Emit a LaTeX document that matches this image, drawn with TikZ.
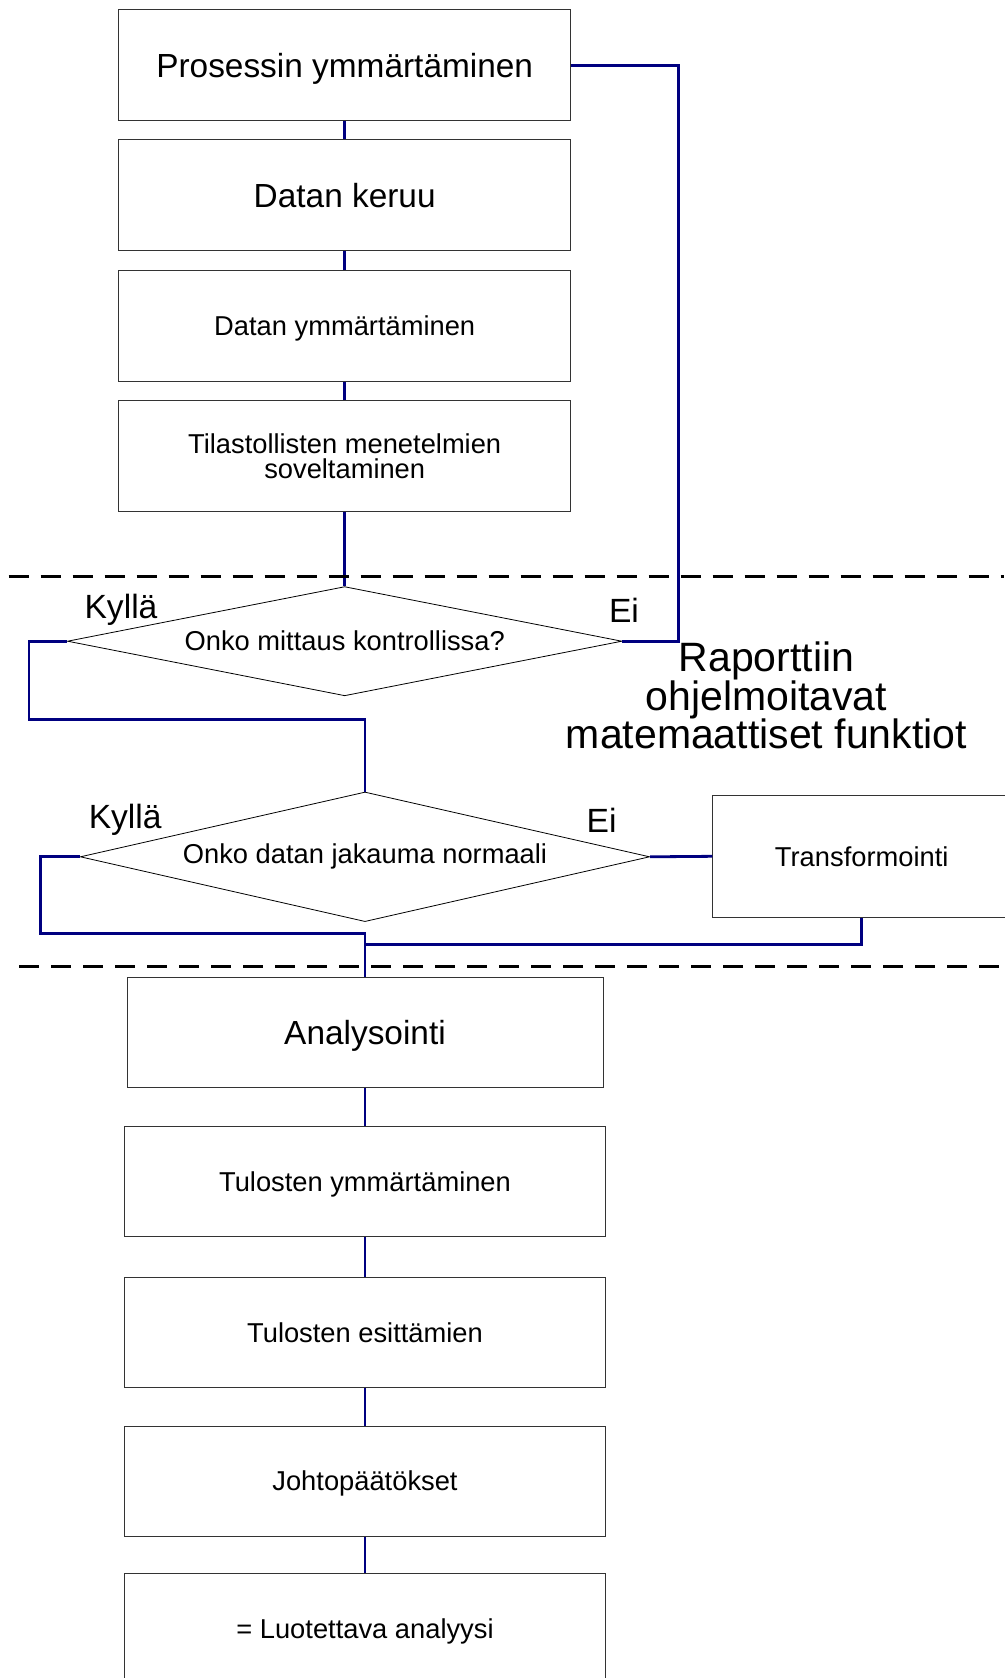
\documentclass[tikz,border=0pt]{standalone}
\usepackage{fontspec}
\setmainfont{Liberation Sans}
\usepackage{tikz}
\usepackage{xcolor}
\usetikzlibrary{shapes.geometric}
\definecolor{linkblue}{RGB}{0,0,128}

\begin{document}
\begin{tikzpicture}[
            x=1pt, y=-1pt,
            phase/.style={draw=black!80, line width=1pt, inner sep=0pt, minimum width=452pt, minimum height=111pt, text depth=0pt, align=center, font=\fontsize{27.3}{25}\selectfont},
            bigphase/.style={phase, font=\fontsize{33.4}{36}\selectfont},
            lowphase/.style={phase, minimum width=481pt, minimum height=110pt},
            decision/.style={diamond, aspect=5, draw=black, line width=0.8pt, inner sep=0pt, font=\fontsize{27.3}{30}\selectfont},
            answer/.style={text depth=0pt, font=\fontsize{33.6}{36}\selectfont},
            link/.style={draw=linkblue, line width=2.8pt},
            divider/.style={draw=black, line width=3pt, dash pattern=on 20pt off 12pt},
        ]
            \useasboundingbox (0,0) rectangle (1004,1678);

            \node[bigphase] (proc) at (344.7,65.3) {Prosessin ymmärtäminen};
            \node[bigphase] (collect) at (344.7,195.4) {Datan keruu};
            \node[phase] (datau) at (344.7,325.9) {Datan ymmärtäminen};
            \node[phase] (stats) at (344.7,456) {Tilastollisten menetelmien\\soveltaminen};
            \node[decision, minimum width=554.5pt, minimum height=109.2pt] (ctrl) at (344.7,641.2) {Onko mittaus kontrollissa?};
            \node[decision, minimum width=569.4pt, minimum height=129.6pt] (normal) at (365,856.8) {Onko datan jakauma normaali};
            \node[phase, minimum width=297.6pt, minimum height=122pt] (trans) at (861.7,856.3) {Transformointi};
            \node[bigphase, minimum width=476pt, minimum height=110pt] (anal) at (365,1032.4) {Analysointi};
            \node[lowphase] (resu) at (365,1181.2) {Tulosten ymmärtäminen};
            \node[lowphase] (pres) at (365,1332.1) {Tulosten esittämien};
            \node[lowphase] (concl) at (365,1481) {Johtopäätökset};
            \node[lowphase] (reliab) at (365,1628.5) {= Luotettava analyysi};

            \node[answer] (yes1) at (121,606) {Kyllä};
            \node[answer] (no1) at (624,610) {Ei};
            \node[answer] (yes2) at (125.2,816.7) {Kyllä};
            \node[answer] (no2) at (601.6,820) {Ei};
            \node[align=center, font=\fontsize{41}{38.5}\selectfont] (report) at (766.4,695.5) {Raporttiin\\ohjelmoitavat\\matemaattiset funktiot};

            \coordinate (back) at (678.6,641.2);
            \coordinate (yesturn1) at (28.9,719.3);
            \coordinate (yesturn2) at (40.7,933.4);
            \coordinate (merge) at (365,944.1);

            \draw[link] (proc.south) -- (collect.north);
            \draw[link] (collect.south) -- (datau.north);
            \draw[link] (datau.south) -- (stats.north);
            \draw[link] (stats.south) -- (ctrl.north);
            \draw[link] (proc.east) -| (back) -- (ctrl.east);
            \draw[link] (ctrl.west) -| (yesturn1) -| (normal.north);
            \draw[link] (normal.west) -| (yesturn2) -| (anal.north);
            \draw[link] (normal.east) -- (trans.west);
            \draw[link] (trans.south) |- (merge);
            \draw[link] (anal.south) -- (resu.north);
            \draw[link] (resu.south) -- (pres.north);
            \draw[link] (pres.south) -- (concl.north);
            \draw[link] (concl.south) -- (reliab.north);

            \draw[divider] (8.6,576) -- (1004,576);
            \draw[divider] (19.3,966.6) -- (1004,966.6);
        \end{tikzpicture}
\end{document}
